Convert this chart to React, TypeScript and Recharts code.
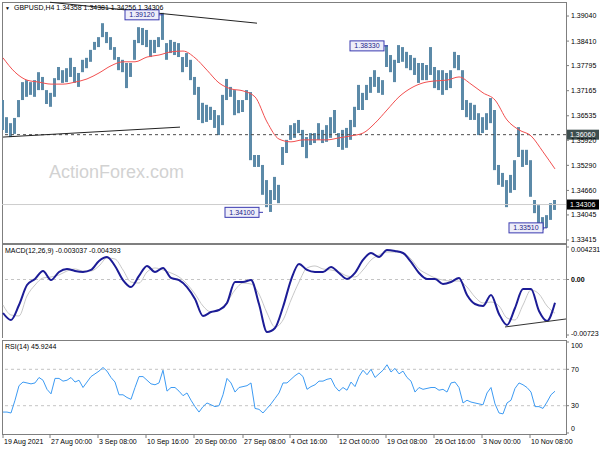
import React from 'react';
import {
  ComposedChart,
  Bar,
  Line,
  XAxis,
  YAxis,
  ReferenceLine,
  ReferenceArea,
  ReferenceDot,
} from 'recharts';

const FONT = '"Liberation Sans", Arial, sans-serif';

// one sample every 4px of the original chart (bar index i)
const barHigh = [
  1.3693, 1.3650, 1.3635, 1.3648, 1.3693, 1.3738, 1.3743, 1.3738, 1.3743, 1.3763,
  1.3751, 1.3718, 1.3711, 1.3748, 1.3776, 1.3768, 1.3773, 1.3799, 1.3776, 1.3761,
  1.3794, 1.3799, 1.3819, 1.3839, 1.3851, 1.3886, 1.3864, 1.3851, 1.3826, 1.3801,
  1.3794, 1.3786, 1.3786, 1.3844, 1.3876, 1.3874, 1.3869, 1.3844, 1.3844, 1.3851,
  1.3912, 1.3836, 1.3844, 1.3839, 1.3836, 1.3801, 1.3811, 1.3794, 1.3751, 1.3726,
  1.3686, 1.3681, 1.3676, 1.3668, 1.3655, 1.3706, 1.3746, 1.3726, 1.3718, 1.3693,
  1.3693, 1.3718, 1.3713, 1.3555, 1.3555, 1.3530, 1.3492, 1.3467, 1.3500, 1.3480,
  1.3575, 1.3593, 1.3630, 1.3635, 1.3643, 1.3618, 1.3600, 1.3610, 1.3610, 1.3635,
  1.3618, 1.3630, 1.3650, 1.3668, 1.3610, 1.3618, 1.3623, 1.3643, 1.3676, 1.3731,
  1.3711, 1.3731, 1.3751, 1.3768, 1.3751, 1.3743, 1.3831, 1.3806, 1.3794, 1.3831,
  1.3826, 1.3814, 1.3806, 1.3799, 1.3786, 1.3786, 1.3781, 1.3826, 1.3776, 1.3768,
  1.3768, 1.3761, 1.3768, 1.3814, 1.3806, 1.3768, 1.3693, 1.3686, 1.3681, 1.3660,
  1.3650, 1.3660, 1.3698, 1.3668, 1.3530, 1.3510, 1.3492, 1.3505, 1.3542, 1.3625,
  1.3568, 1.3568, 1.3542, 1.3442, 1.3429, 1.3399, 1.3404, 1.3434, 1.3442,
];
const barLow = [
  1.3618, 1.3610, 1.3600, 1.3608, 1.3650, 1.3693, 1.3701, 1.3706, 1.3701, 1.3718,
  1.3718, 1.3683, 1.3676, 1.3701, 1.3743, 1.3736, 1.3738, 1.3751, 1.3736, 1.3726,
  1.3763, 1.3773, 1.3789, 1.3819, 1.3826, 1.3851, 1.3836, 1.3819, 1.3794, 1.3768,
  1.3763, 1.3723, 1.3751, 1.3794, 1.3836, 1.3831, 1.3826, 1.3801, 1.3811, 1.3826,
  1.3844, 1.3794, 1.3811, 1.3806, 1.3801, 1.3763, 1.3776, 1.3743, 1.3706, 1.3643,
  1.3635, 1.3638, 1.3643, 1.3623, 1.3605, 1.3630, 1.3693, 1.3701, 1.3655, 1.3660,
  1.3663, 1.3693, 1.3542, 1.3525, 1.3525, 1.3455, 1.3424, 1.3412, 1.3442, 1.3434,
  1.3530, 1.3560, 1.3593, 1.3598, 1.3610, 1.3575, 1.3547, 1.3580, 1.3585, 1.3593,
  1.3585, 1.3588, 1.3598, 1.3610, 1.3575, 1.3568, 1.3573, 1.3593, 1.3625, 1.3668,
  1.3668, 1.3693, 1.3711, 1.3726, 1.3711, 1.3706, 1.3776, 1.3763, 1.3738, 1.3786,
  1.3789, 1.3773, 1.3768, 1.3756, 1.3736, 1.3743, 1.3743, 1.3756, 1.3723, 1.3718,
  1.3706, 1.3718, 1.3723, 1.3773, 1.3768, 1.3668, 1.3650, 1.3643, 1.3643, 1.3605,
  1.3610, 1.3618, 1.3635, 1.3517, 1.3480, 1.3475, 1.3424, 1.3460, 1.3467, 1.3550,
  1.3525, 1.3530, 1.3450, 1.3409, 1.3374, 1.3367, 1.3372, 1.3392, 1.3417,
];

// red moving average, one value every 3 bars
const maValues = [
  1.3799, 1.3763, 1.3743, 1.3738, 1.3733, 1.3733, 1.3738, 1.3746, 1.3761, 1.3779,
  1.3789, 1.3789, 1.3801, 1.3806, 1.3814, 1.3816, 1.3799, 1.3768, 1.3736, 1.3721,
  1.3716, 1.3701, 1.3638, 1.3595, 1.3588, 1.3593, 1.3593, 1.3593, 1.3598, 1.3603,
  1.3610, 1.3635, 1.3668, 1.3701, 1.3723, 1.3736, 1.3741, 1.3743, 1.3751, 1.3733,
  1.3711, 1.3693, 1.3643, 1.3618, 1.3603, 1.3563, 1.3520,
];

// MACD main and signal, one value every 2 bars
const macdValues = [
  -0.00436, -0.00527, -0.00332, -0.00072, 0.00007, 0.00111, -0.00007, 0.00098, 0.00137, 0.00111,
  0.00098, 0.00124, 0.00241, 0.00293, 0.00176, -0.00007, -0.00098, 0.00046, 0.00176, 0.00098,
  0.0015, 0.0002, -0.00007, -0.00098, -0.00254, -0.00475, -0.00423, -0.00397, -0.00306, -0.00033,
  -0.00033, -0.00007, -0.00319, -0.00684, -0.00631, -0.00358, -0.00007, 0.00202, 0.00124, 0.00098,
  0.00098, 0.00163, 0.00085, 0.00007, 0.00085, 0.00254, 0.00345, 0.00293, 0.00384, 0.00371,
  0.00345, 0.00228, 0.00085, 0.00007, 0.00007, -0.00059, -0.00033, 0.0002, -0.00202, -0.00319,
  -0.00345, -0.00202, -0.00449, -0.00592, -0.00371, -0.00124, -0.00124, -0.0041, -0.0054, -0.003037,
];
const signalValues = [
  -0.00332, -0.00462, -0.00475, -0.00215, -0.00072, 0.0002, 0.00033, 0.00059, 0.00111, 0.00137,
  0.00111, 0.00111, 0.00176, 0.0028, 0.00267, 0.00124, -0.00033, -0.00046, 0.00098, 0.0015,
  0.00124, 0.00085, 0.00033, -0.00059, -0.00189, -0.00345, -0.00423, -0.00397, -0.00293, -0.00137,
  -0.00046, -0.00059, -0.00189, -0.00436, -0.00618, -0.00527, -0.00267, -0.00033, 0.0015, 0.00176,
  0.00137, 0.00124, 0.00098, 0.00046, 0.00033, 0.00124, 0.00254, 0.00319, 0.00358, 0.00358,
  0.00345, 0.00267, 0.00137, 0.00072, 0.0002, -0.00007, -0.0002, -0.0002, -0.00098, -0.00228,
  -0.00306, -0.00293, -0.00345, -0.00501, -0.00527, -0.00332, -0.00137, -0.00189, -0.00345, -0.004393,
];

const rsiValues = [
  23, 23, 22, 36, 52, 56, 55, 54, 55, 61,
  58, 48, 43, 60, 60, 57, 58, 61, 56, 58,
  50, 56, 62, 65, 68, 72, 68, 61, 56, 42,
  42, 39, 37, 50, 62, 62, 58, 54, 53, 55,
  69, 46, 50, 50, 46, 41, 44, 36, 29, 23,
  29, 33, 31, 29, 30, 42, 60, 55, 45, 50,
  51, 52, 55, 27, 26, 22, 27, 32, 38, 44,
  55, 55, 59, 63, 66, 62, 48, 51, 53, 57,
  57, 59, 60, 51, 46, 50, 47, 56, 51, 62,
  69, 64, 70, 61, 65, 69, 75, 67, 71, 65,
  68, 61, 57, 45, 50, 48, 49, 50, 50, 47,
  48, 45, 55, 56, 50, 33, 36, 34, 33, 32,
  31, 44, 50, 32, 22, 21, 33, 36, 49, 55,
  53, 50, 45, 29, 29, 27, 34, 42, 45.9244,
];

const dateTicks = [0, 11.75, 23.75, 35.75, 47.75, 60, 71.75, 83.75, 95.75, 107.75, 119.75, 131.75];
const dateLabels = [
  '19 Aug 2021', '27 Aug 00:00', '3 Sep 08:00', '10 Sep 16:00', '20 Sep 00:00', '27 Sep 08:00',
  '4 Oct 16:00', '12 Oct 00:00', '19 Oct 08:00', '26 Oct 16:00', '3 Nov 00:00', '10 Nov 08:00',
];
const priceTicks = [1.3904, 1.3841, 1.37795, 1.37165, 1.36535, 1.3592, 1.3529, 1.3466, 1.34045, 1.33415];
const macdTicks = [0.004231, 0, -0.00723];
const macdTickLabels = ['0.004231', '0.00', '-0.00723'];
const rsiTicks = [100, 70, 30, 0];

// marked highs / lows (bar index, price, text)
const noteIdx = [40, 96.25, 65, 136];
const notePrice = [1.3907, 1.3829, 1.3411, 1.3372];
const noteText = ['1.39120', '1.38330', '1.34100', '1.33510'];

const X_DOMAIN = [-0.25, 140.75];
const PRICE_DOMAIN = [1.3334, 1.39392];
const MACD_DOMAIN = [-0.007617, 0.004622];
const RSI_DOMAIN = [-1.1, 102.2];

const rows = barHigh.map((h, i) => ({
  i,
  range: [barLow[i], h],
  ma: i % 3 === 0 ? maValues[i / 3] : null,
  macd: i % 2 === 0 ? macdValues[i / 2] : null,
  signal: i % 2 === 0 ? signalValues[i / 2] : null,
  rsi: rsiValues[i],
}));

const BORDER = '#7f7f7f';

const PriceTick = (props: any) => (
  <text x={props.x} y={props.y} dy="0.35em" fontSize={7} fill="#000" fontFamily={FONT}>
    {props.payload.value.toFixed(5)}
  </text>
);

const MacdTick = (props: any) => {
  const k = macdTicks.indexOf(props.payload.value);
  const shift = k === 0 ? 2.5 : k === 2 ? -1 : 0;
  return (
    <text x={props.x} y={props.y + shift} dy="0.35em" fontSize={7} fill="#000" fontFamily={FONT}
      fontWeight={k === 1 ? 'bold' : 'normal'}>
      {macdTickLabels[k]}
    </text>
  );
};

const RsiTick = (props: any) => {
  const v = props.payload.value;
  const shift = v === 100 ? 4 : v === 0 ? -4 : 0;
  return (
    <text x={props.x} y={props.y + shift} dy="0.35em" fontSize={7} fill="#000" fontFamily={FONT}>
      {v}
    </text>
  );
};

const DateTick = (props: any) => {
  const k = dateTicks.indexOf(props.payload.value);
  return (
    <text x={props.x + 1} y={props.y} dy="0.71em" fontSize={7} fill="#000" fontFamily={FONT}>
      {dateLabels[k]}
    </text>
  );
};

const AxisTag = (props: any) => {
  const { viewBox, text, bg } = props;
  if (!viewBox) return null;
  const x = viewBox.x + viewBox.width + 1;
  const y = viewBox.y;
  return (
    <g>
      <rect x={x} y={y - 5} width={32} height={10} fill={bg} />
      <text x={x + 3} y={y} dy="0.35em" fontSize={7} fill="#fff" fontFamily={FONT}>{text}</text>
    </g>
  );
};

const PriceNote = (props: any) => {
  const { cx, cy, text } = props;
  const right = cx - 4;
  const w = 34;
  return (
    <g>
      <line x1={right} y1={cy} x2={cx} y2={cy} stroke="#3a3ab0" />
      <rect x={right - w} y={cy - 5} width={w} height={10} fill="#eeeef9" stroke="#3a3ab0" />
      <text x={right - w / 2} y={cy} dy="0.35em" textAnchor="middle" fontSize={7} fill="#22228a" fontFamily={FONT}>
        {text}
      </text>
    </g>
  );
};

const labelStyle: React.CSSProperties = {
  position: 'absolute',
  left: 5,
  fontSize: 7,
  lineHeight: '8px',
  whiteSpace: 'nowrap',
  color: '#000',
};

export default function App() {
  return (
    <div style={{ position: 'absolute', left: 0, top: 0, width: 600, height: 450, background: '#fff', overflow: 'hidden', fontFamily: FONT }}>
      {/* price panel */}
      <div style={{ position: 'absolute', left: 0, top: 0 }}>
        <ComposedChart width={600} height={244} data={rows} margin={{ top: 2, right: 0, bottom: 1, left: 2 }}>
          <XAxis dataKey="i" type="number" domain={X_DOMAIN} allowDataOverflow hide />
          <YAxis orientation="right" width={34} domain={PRICE_DOMAIN} allowDataOverflow ticks={priceTicks}
            interval={0} axisLine={false} tickSize={3} tickMargin={2} tickLine={{ stroke: BORDER }} tick={PriceTick} />
          <ReferenceArea x1={X_DOMAIN[0]} x2={X_DOMAIN[1]} y1={PRICE_DOMAIN[0]} y2={PRICE_DOMAIN[1]}
            fill="none" stroke={BORDER} shapeRendering="crispEdges" />
          <ReferenceLine y={1.34306} stroke="#cdcdcd" label={<AxisTag text="1.34306" bg="#000" />} />
          <ReferenceLine y={1.3606} stroke="#4a4a4a" strokeDasharray="3 3" label={<AxisTag text="1.36060" bg="#3e4e4e" />} />
          <Bar dataKey="range" fill="#5c8aa8" barSize={3} isAnimationActive={false} />
          <Line dataKey="ma" type="monotone" stroke="#f25050" strokeWidth={1} dot={false} connectNulls isAnimationActive={false} />
          <ReferenceLine segment={[{ x: 11.75, y: 1.39385 }, { x: 63.5, y: 1.3886 }]} stroke="#222" />
          <ReferenceLine segment={[{ x: 0, y: 1.36 }, { x: 44.25, y: 1.3625 }]} stroke="#222" />
          {noteIdx.map((x, k) => (
            <ReferenceDot key={k} x={x} y={notePrice[k]} r={0}
              shape={(p: any) => <PriceNote {...p} text={noteText[k]} />} />
          ))}
        </ComposedChart>
      </div>

      {/* MACD panel */}
      <div style={{ position: 'absolute', left: 0, top: 244 }}>
        <ComposedChart width={600} height={94} data={rows} margin={{ top: 0, right: 0, bottom: 0, left: 2 }}>
          <XAxis dataKey="i" type="number" domain={X_DOMAIN} allowDataOverflow hide />
          <YAxis orientation="right" width={34} domain={MACD_DOMAIN} allowDataOverflow ticks={macdTicks}
            interval={0} axisLine={false} tickSize={3} tickMargin={2} tickLine={{ stroke: BORDER }} tick={MacdTick} />
          <ReferenceArea x1={X_DOMAIN[0]} x2={X_DOMAIN[1]} y1={MACD_DOMAIN[0]} y2={MACD_DOMAIN[1]}
            fill="none" stroke={BORDER} shapeRendering="crispEdges" />
          <ReferenceLine y={0} stroke="#c4c4c4" strokeDasharray="3 3" />
          <Line dataKey="signal" type="monotone" stroke="#c8c8c8" strokeWidth={1} dot={false} connectNulls isAnimationActive={false} />
          <Line dataKey="macd" type="monotone" stroke="#1c1c96" strokeWidth={2} dot={false} connectNulls isAnimationActive={false} />
          <ReferenceLine segment={[{ x: 125.5, y: -0.00618 }, { x: 140.75, y: -0.00514 }]} stroke="#333" />
        </ComposedChart>
      </div>

      {/* RSI panel */}
      <div style={{ position: 'absolute', left: 0, top: 340 }}>
        <ComposedChart width={600} height={110} data={rows} margin={{ top: 0, right: 0, bottom: 0, left: 2 }}>
          <XAxis dataKey="i" type="number" domain={X_DOMAIN} allowDataOverflow ticks={dateTicks} interval={0}
            height={16} axisLine={false} tickSize={4} tickMargin={1} tickLine={{ stroke: BORDER }} tick={DateTick} />
          <YAxis orientation="right" width={34} domain={RSI_DOMAIN} allowDataOverflow ticks={rsiTicks}
            interval={0} axisLine={false} tickSize={3} tickMargin={2} tickLine={{ stroke: BORDER }} tick={RsiTick} />
          <ReferenceArea x1={X_DOMAIN[0]} x2={X_DOMAIN[1]} y1={RSI_DOMAIN[0]} y2={RSI_DOMAIN[1]}
            fill="none" stroke={BORDER} shapeRendering="crispEdges" />
          <ReferenceLine y={70} stroke="#c4c4c4" strokeDasharray="3 3" />
          <ReferenceLine y={30} stroke="#c4c4c4" strokeDasharray="3 3" />
          <Line dataKey="rsi" type="linear" stroke="#3d9bf3" strokeWidth={1} dot={false} isAnimationActive={false} />
        </ComposedChart>
      </div>

      <div style={{ position: 'absolute', left: 49, top: 162, fontSize: 18, lineHeight: '20px', color: '#d2d2d2', whiteSpace: 'nowrap' }}>
        ActionForex.com
      </div>
      <div style={{ ...labelStyle, top: 4 }}>
        <span style={{ fontSize: 5, marginRight: 4 }}>▼</span>GBPUSD,H4 1.34358 1.34381 1.34256 1.34306
      </div>
      <div style={{ ...labelStyle, top: 247 }}>MACD(12,26,9) -0.003037 -0.004393</div>
      <div style={{ ...labelStyle, top: 343 }}>RSI(14) 45.9244</div>
    </div>
  );
}
